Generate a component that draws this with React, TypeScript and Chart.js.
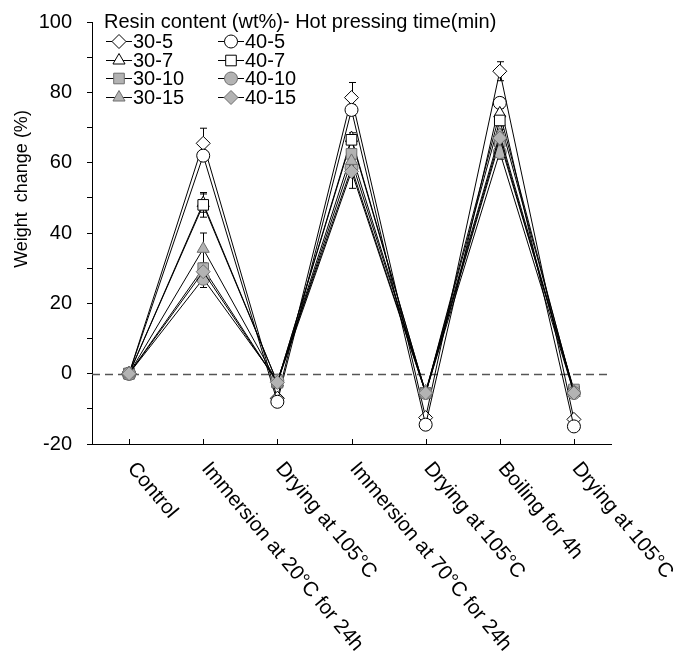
import React, { useEffect, useRef } from "react";
import { Chart, registerables } from "chart.js";

Chart.register(...registerables);

const categories = [
  "Control",
  "Immersion at 20°C for 24h",
  "Drying at 105°C",
  "Immersion at 70°C for 24h",
  "Drying at 105°C",
  "Boiling for 4h",
  "Drying at 105°C",
];

const seriesNames = ["30-5", "40-5", "30-7", "40-7", "30-10", "40-10", "30-15", "40-15"];

const v30_5 = [0, 65.5, -7, 78.5, -12.5, 86, -13];
const v40_5 = [0, 62, -8, 75, -14.5, 77, -15];
const v30_7 = [0, 48.5, -2.5, 67, -5.5, 74, -5.5];
const v40_7 = [0, 48, -2.5, 66.5, -5.5, 72, -5];
const v30_10 = [0, 30, -2.5, 62.5, -5.5, 66, -4.5];
const v40_10 = [0, 27, -2, 58.5, -5.5, 63, -5.5];
const v30_15 = [0, 35.5, -2.5, 60.5, -5, 68, -5];
const v40_15 = [0, 29, -2.5, 57.5, -5.5, 67, -5.5];

const e30_5 = [0, 4.3, 0.5, 4.3, 0.5, 2.7, 0.5];
const e40_5 = [0, 1.5, 0.5, 1.5, 0.5, 1.5, 0.5];
const e30_7 = [0, 2.6, 0.5, 1.5, 0.5, 1.5, 0.5];
const e40_7 = [0, 3.5, 0.5, 1, 0.5, 1.5, 0.5];
const e30_10 = [0, 1.5, 0.5, 1.5, 0.5, 1.5, 0.5];
const e40_10 = [0, 2.5, 0.5, 1.5, 0.5, 2, 0.5];
const e30_15 = [0, 4.5, 0.5, 1.5, 0.5, 1.5, 0.5];
const e40_15 = [0, 1.5, 0.5, 4.8, 0.5, 1.5, 0.5];

const yTicks = [100, 80, 60, 40, 20, 0, -20];

const FONT = "'Liberation Sans', Arial, sans-serif";
const GRAY = "#b3b3b3";
const GRAY_BORDER = "#6e6e6e";

const values = [v30_5, v40_5, v30_7, v40_7, v30_10, v40_10, v30_15, v40_15];
const errors = [e30_5, e40_5, e30_7, e40_7, e30_10, e40_10, e30_15, e40_15];
const styles = [
  { pointStyle: "rectRot", radius: 7, fill: "#ffffff", border: "#000000" },
  { pointStyle: "circle", radius: 6.5, fill: "#ffffff", border: "#000000" },
  { pointStyle: "triangle", radius: 7, fill: "#ffffff", border: "#000000" },
  { pointStyle: "rect", radius: 7.5, fill: "#ffffff", border: "#000000" },
  { pointStyle: "rect", radius: 7.5, fill: GRAY, border: GRAY_BORDER },
  { pointStyle: "circle", radius: 6.5, fill: GRAY, border: GRAY_BORDER },
  { pointStyle: "triangle", radius: 7, fill: GRAY, border: GRAY_BORDER },
  { pointStyle: "rectRot", radius: 7, fill: GRAY, border: GRAY_BORDER },
];

function drawMarker(ctx: CanvasRenderingContext2D, style: string, r: number, x: number, y: number, fill: string, border: string) {
  ctx.save();
  ctx.fillStyle = fill;
  ctx.strokeStyle = border;
  ctx.lineWidth = 1;
  ctx.beginPath();
  if (style === "circle") {
    ctx.arc(x, y, r, 0, Math.PI * 2);
  } else if (style === "rect") {
    const s = Math.SQRT1_2 * r;
    ctx.rect(x - s, y - s, 2 * s, 2 * s);
  } else if (style === "rectRot") {
    ctx.moveTo(x, y - r);
    ctx.lineTo(x + r, y);
    ctx.lineTo(x, y + r);
    ctx.lineTo(x - r, y);
    ctx.closePath();
  } else if (style === "triangle") {
    ctx.moveTo(x, y - r);
    ctx.lineTo(x + r * Math.cos(Math.PI / 6), y + r * 0.5);
    ctx.lineTo(x - r * Math.cos(Math.PI / 6), y + r * 0.5);
    ctx.closePath();
  }
  ctx.fill();
  ctx.stroke();
  ctx.restore();
}

const extrasPlugin = {
  id: "extras",
  beforeDatasetsDraw(chart: any) {
    const ctx = chart.ctx;
    const xs = chart.scales.x;
    const ys = chart.scales.y;
    const area = chart.chartArea;
    ctx.save();
    ctx.strokeStyle = "#555555";
    ctx.lineWidth = 1.3;
    ctx.setLineDash([8, 5]);
    const y0 = Math.round(ys.getPixelForValue(0)) + 0.5;
    ctx.beginPath();
    ctx.moveTo(area.left, y0);
    ctx.lineTo(area.right - 4, y0);
    ctx.stroke();
    ctx.restore();
    ctx.save();
    ctx.strokeStyle = "#000000";
    ctx.lineWidth = 1;
    errors.forEach((errs, di) => {
      errs.forEach((e, i) => {
        if (!e) return;
        const x = Math.round(xs.getPixelForValue(i)) + 0.5;
        const v = values[di][i];
        const yt = ys.getPixelForValue(v + e);
        const yb = ys.getPixelForValue(v - e);
        ctx.beginPath();
        ctx.moveTo(x, yt);
        ctx.lineTo(x, yb);
        ctx.moveTo(x - 3.5, yt);
        ctx.lineTo(x + 3.5, yt);
        ctx.moveTo(x - 3.5, yb);
        ctx.lineTo(x + 3.5, yb);
        ctx.stroke();
      });
    });
    ctx.restore();
  },
  afterDraw(chart: any) {
    const ctx = chart.ctx;
    const xs = chart.scales.x;
    const area = chart.chartArea;
    ctx.save();
    ctx.strokeStyle = "#000000";
    ctx.lineWidth = 1;
    categories.forEach((_, i) => {
      const x = Math.round(xs.getPixelForValue(i)) + 0.5;
      ctx.beginPath();
      ctx.moveTo(x, area.bottom);
      ctx.lineTo(x, area.bottom - 5);
      ctx.stroke();
    });
    ctx.restore();
    // rotated x labels
    ctx.save();
    ctx.fillStyle = "#000000";
    ctx.font = `20.5px ${FONT}`;
    ctx.textAlign = "left";
    ctx.textBaseline = "middle";
    categories.forEach((lab, i) => {
      const x = xs.getPixelForValue(i);
      ctx.save();
      ctx.translate(x + 2, area.bottom + 21);
      ctx.rotate((50 * Math.PI) / 180);
      ctx.fillText(lab, 0, 0);
      ctx.restore();
    });
    ctx.restore();
    // y axis title
    ctx.save();
    ctx.fillStyle = "#000000";
    ctx.font = `18px ${FONT}`;
    ctx.textAlign = "center";
    ctx.textBaseline = "middle";
    ctx.translate(22, 189);
    ctx.rotate(-Math.PI / 2);
    ctx.fillText("Weight  change (%)", 0, 0);
    ctx.restore();
    // legend
    ctx.save();
    ctx.fillStyle = "#000000";
    ctx.font = `20px ${FONT}`;
    ctx.textAlign = "left";
    ctx.textBaseline = "middle";
    ctx.fillText("Resin content (wt%)- Hot pressing time(min)", area.left + 12, area.top);
    const rowY = [41, 60, 78, 97];
    const colX = [area.left + 14, area.left + 126];
    seriesNames.forEach((name, i) => {
      const col = i % 2;
      const row = Math.floor(i / 2);
      const x = colX[col];
      const y = rowY[row];
      const st = styles[i];
      ctx.strokeStyle = "#000000";
      ctx.lineWidth = 1;
      ctx.beginPath();
      ctx.moveTo(x, y + 0.5);
      ctx.lineTo(x + 26, y + 0.5);
      ctx.stroke();
      drawMarker(ctx, st.pointStyle, st.radius, x + 13, y + 0.5, st.fill, st.border);
      ctx.fillStyle = "#000000";
      ctx.fillText(name, x + 27, y + 1);
    });
    ctx.restore();
  },
};

export default function App() {
  const ref = useRef<HTMLCanvasElement | null>(null);
  useEffect(() => {
    if (!ref.current) return;
    const chart = new Chart(ref.current, {
      type: "line",
      data: {
        labels: categories,
        datasets: seriesNames.map((name, i) => ({
          label: name,
          data: values[i],
          order: seriesNames.length - 1 - i,
          borderColor: "#000000",
          borderWidth: 1,
          pointStyle: styles[i].pointStyle as any,
          pointRadius: styles[i].radius,
          pointBackgroundColor: styles[i].fill,
          pointBorderColor: styles[i].border,
          pointBorderWidth: 1,
          tension: 0,
          fill: false,
        })),
      },
      options: {
        animation: false,
        responsive: false,
        maintainAspectRatio: false,
        layout: { padding: { top: 22, right: 65, left: 0, bottom: 0 } },
        plugins: { legend: { display: false }, tooltip: { enabled: false } },
        scales: {
          x: {
            type: "category",
            offset: true,
            grid: { display: false },
            border: { display: true, color: "#000000", width: 1 },
            ticks: { display: false },
            afterFit(scale: any) {
              scale.height = 212;
            },
          },
          y: {
            min: -20,
            max: 100,
            grid: {
              drawOnChartArea: false,
              drawTicks: true,
              tickLength: 5,
              color: "#000000",
              tickColor: "#000000",
            },
            border: { display: true, color: "#000000", width: 1 },
            ticks: {
              stepSize: 10,
              autoSkip: false,
              color: "#000000",
              font: { family: FONT, size: 20 },
              padding: 15,
              callback: (v: any) => (yTicks.includes(Number(v)) ? String(v) : ""),
            },
            afterFit(scale: any) {
              scale.width = 92;
              scale.paddingTop = 0;
              scale.paddingBottom = 0;
            },
          },
        },
      },
      plugins: [extrasPlugin],
    });
    return () => chart.destroy();
  }, []);
  return (
    <div style={{ position: "absolute", left: 0, top: 0, width: 676, height: 656, overflow: "hidden" }}>
      <canvas ref={ref} width={676} height={656} style={{ width: 676, height: 656, display: "block" }} />
    </div>
  );
}
